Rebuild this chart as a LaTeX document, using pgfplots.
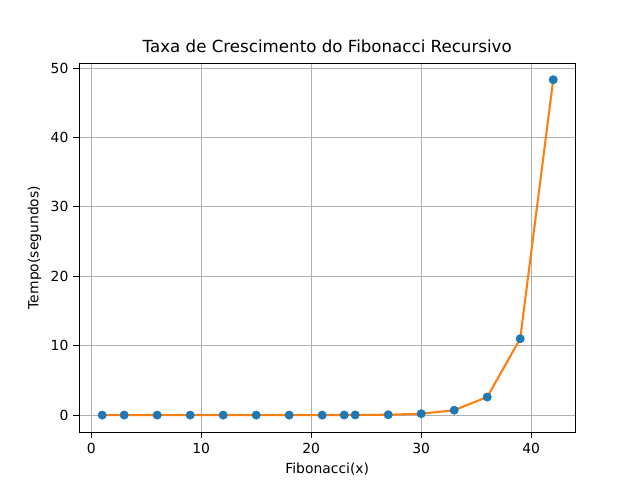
\documentclass[border=0pt]{standalone}
\usepackage{pgfplots}
\pgfplotsset{compat=1.18}
\usepackage{fontspec}
\setmainfont{DejaVu Sans}
\definecolor{c0}{HTML}{1F77B4}
\definecolor{c1}{HTML}{FF7F0E}
\begin{document}
\begin{tikzpicture}[x=0.72pt,y=0.72pt]
\useasboundingbox (0,0) rectangle (640,480);
\begin{axis}[at={(72,69)},anchor=south west,scale only axis,
 width=357.12pt,height=265.68pt,
 xmin=-1.09,xmax=44,ymin=-2.45,ymax=50.7,
 xtick={0,10,20,30,40},ytick={0,10,20,30,40,50},
 xtick pos=left,ytick pos=left,
 grid=major,grid style={color=black!31,line width=0.6pt},
 tick align=outside,tick style={black,line width=0.6pt},
 axis line style={line width=0.6pt},
 /pgf/number format/assume math mode=true,
 ticklabel style={font=\fontsize{10}{12}\selectfont},
 label style={font=\fontsize{10}{12}\selectfont},
 xlabel={Fibonacci(x)},ylabel={Tempo(segundos)},
 title={Taxa de Crescimento do Fibonacci Recursivo},
 title style={font=\fontsize{12}{14}\selectfont,yshift=-2pt}]
\addplot[only marks,mark=*,mark size=3pt,color=c0] coordinates {(1,0)(3,0)(6,0)(9,0)(12,0)(15,0)(18,0)(21,0)(23,0.01)(24,0.02)(27,0.05)(30,0.2)(33,0.7)(36,2.6)(39,11)(42,48.3)};
\addplot[color=c1,line width=1.5pt,mark=none] coordinates {(1,0)(3,0)(6,0)(9,0)(12,0)(15,0)(18,0)(21,0)(23,0.01)(24,0.02)(27,0.05)(30,0.2)(33,0.7)(36,2.6)(39,11)(42,48.3)};
\end{axis}
\end{tikzpicture}
\end{document}
